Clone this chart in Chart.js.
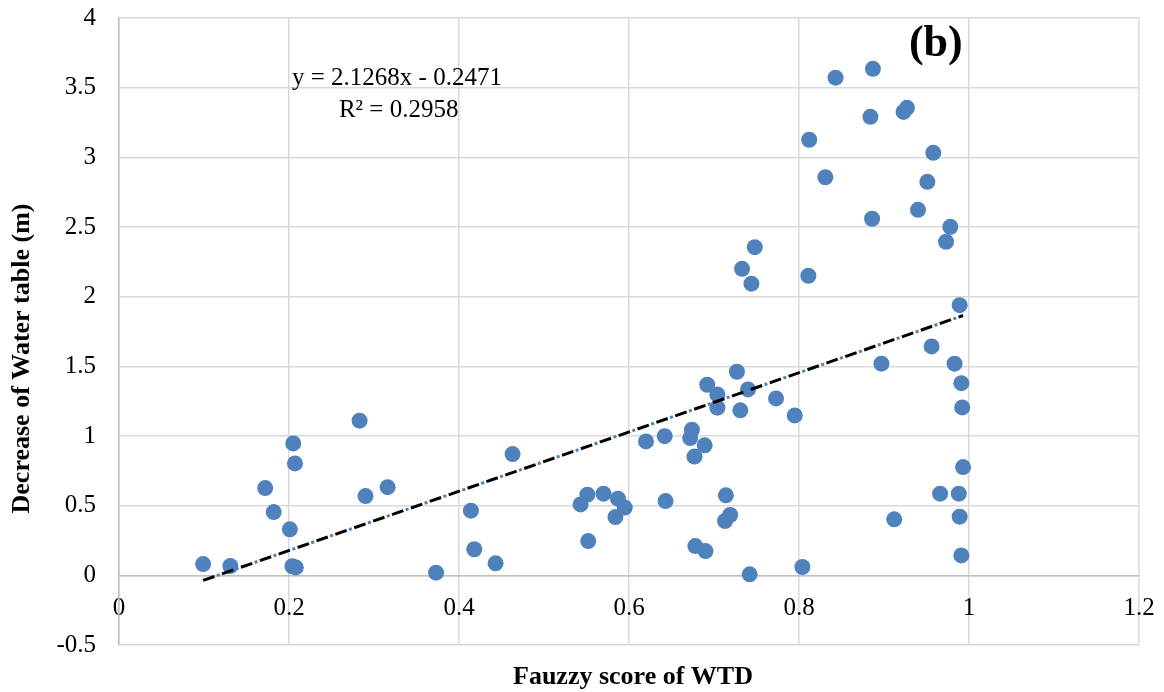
<!DOCTYPE html>
<html>
<head>
<meta charset="utf-8">
<script src="https://cdn.jsdelivr.net/npm/chart.js@4/dist/chart.umd.min.js"></script>
<style>
  html, body { margin: 0; padding: 0; background: #fff; }
  #wrap { width: 1164px; height: 692px; position: relative; }
</style>
</head>
<body>
<div id="wrap"><canvas id="wtdChart"></canvas></div>
<script>
// Fuzzy score of WTD (x) vs decrease of water table in m (y)
const fuzzyScore = [
    0.099, 0.131, 0.172, 0.182, 0.201, 0.205, 0.207, 0.204, 0.208, 0.283,
    0.290, 0.316, 0.373, 0.414, 0.418, 0.443, 0.463, 0.543, 0.551, 0.552,
    0.570, 0.587, 0.595, 0.584, 0.620, 0.642, 0.643, 0.674, 0.672, 0.677,
    0.689, 0.678, 0.690, 0.692, 0.704, 0.704, 0.714, 0.719, 0.713, 0.727,
    0.733, 0.731, 0.740, 0.742, 0.744, 0.748, 0.773, 0.795, 0.804, 0.811,
    0.812, 0.831, 0.843, 0.886, 0.884, 0.887, 0.897, 0.912, 0.923, 0.927,
    0.940, 0.951, 0.956, 0.958, 0.966, 0.973, 0.978, 0.983, 0.988, 0.989,
    0.989, 0.991, 0.992, 0.993, 0.991
];
const waterDecrease = [
    0.081, 0.067, 0.626, 0.454, 0.330, 0.947, 0.803, 0.065, 0.057, 1.110,
    0.569, 0.633, 0.019, 0.464, 0.187, 0.086, 0.870, 0.509, 0.579, 0.246,
    0.586, 0.550, 0.486, 0.418, 0.961, 0.999, 0.533, 1.045, 0.985, 0.852,
    0.933, 0.210, 0.174, 1.368, 1.298, 1.203, 0.574, 0.433, 0.390, 1.461,
    2.200, 1.184, 1.334, 0.007, 2.093, 2.355, 1.270, 1.148, 0.060, 2.150,
    3.126, 2.857, 3.572, 2.559, 3.291, 3.635, 1.519, 0.402, 3.326, 3.355,
    2.623, 2.824, 1.643, 3.032, 0.586, 2.394, 2.501, 1.519, 0.586, 0.421,
    1.939, 1.379, 1.205, 0.777, 0.143
];

// linear trendline as reported on the chart
const trendSlope = 2.1268;
const trendIntercept = -0.2471;
const trendLabel = 'y = 2.1268x - 0.2471';
const r2Label = 'R² = 0.2958';

const xTicks = [0, 0.2, 0.4, 0.6, 0.8, 1, 1.2];
const yTicks = [-0.5, 0, 0.5, 1, 1.5, 2, 2.5, 3, 3.5, 4];

const xTitle = 'Fauzzy score of WTD';
const yTitle = 'Decrease of Water table (m)';
const panelLabel = '(b)';

const points = fuzzyScore.map((x, i) => ({ x: x, y: waterDecrease[i] }));
const xMin = Math.min(...fuzzyScore);
const xMax = Math.max(...fuzzyScore);
const trendPoints = [
    { x: xMin, y: trendSlope * xMin + trendIntercept },
    { x: xMax, y: trendSlope * xMax + trendIntercept }
];

const serif = '"Liberation Serif", "Times New Roman", serif';

// ===================
// extra text: axis titles, equation, panel label
// ===================
const textPlugin = {
    id: 'textPlugin',
    afterDraw(chart) {
        const ctx = chart.ctx;
        const xs = chart.scales.x;
        const ys = chart.scales.y;
        const area = chart.chartArea;
        ctx.save();
        ctx.fillStyle = '#000';
        ctx.textAlign = 'center';

        // equation
        ctx.font = '25px ' + serif;
        ctx.textBaseline = 'alphabetic';
        ctx.fillText(trendLabel, xs.getPixelForValue(0.327), ys.getPixelForValue(3.52));
        ctx.fillText(r2Label, xs.getPixelForValue(0.329), ys.getPixelForValue(3.29));

        // panel label
        ctx.font = 'bold 44px ' + serif;
        ctx.fillText(panelLabel, xs.getPixelForValue(0.961), ys.getPixelForValue(3.73));

        // x axis title
        ctx.font = 'bold 26px ' + serif;
        ctx.fillText(xTitle, (area.left + area.right) / 2 + 4, chart.height - 8);

        // y axis title
        ctx.translate(22, (area.top + area.bottom) / 2 + 27);
        ctx.rotate(-Math.PI / 2);
        ctx.textBaseline = 'middle';
        ctx.fillText(yTitle, 0, 0);
        ctx.restore();
    }
};

const ctx = document.getElementById('wtdChart').getContext('2d');
const wtdChart = new Chart(ctx, {
    type: 'scatter',
    data: {
        datasets: [
            {
                // black dashes of the trendline
                type: 'line',
                data: trendPoints,
                borderColor: '#000',
                borderWidth: 3,
                borderDash: [12, 8],
                pointRadius: 0,
                fill: false
            },
            {
                // blue dots between the dashes
                type: 'line',
                data: trendPoints,
                borderColor: '#4F81BD',
                borderWidth: 3,
                borderDash: [3, 17],
                borderDashOffset: 5.5,
                pointRadius: 0,
                fill: false
            },
            {
                data: points,
                backgroundColor: '#4F81BD',
                borderColor: '#4F81BD',
                borderWidth: 0,
                pointRadius: 8,
                pointHoverRadius: 8
            }
        ]
    },
    options: {
        responsive: true,
        maintainAspectRatio: false,
        animation: false,
        layout: {
            padding: { top: 18, right: 25, left: 0, bottom: 47 }
        },
        plugins: {
            legend: { display: false },
            tooltip: { enabled: false },
            title: { display: false }
        },
        scales: {
            x: {
                type: 'linear',
                position: { y: 0 },
                min: 0,
                max: 1.2,
                afterBuildTicks: (scale) => { scale.ticks = xTicks.map(v => ({ value: v })); },
                grid: { color: '#D9D9D9', lineWidth: 1.5, drawTicks: true, tickLength: 18, tickColor: 'rgba(0,0,0,0)' },
                border: { color: '#BFBFBF', width: 1.5 },
                ticks: {
                    color: '#000',
                    padding: 0,
                    maxRotation: 0,
                    callback: (v) => String(v),
                    font: { family: serif, size: 25 }
                }
            },
            y: {
                type: 'linear',
                min: -0.5,
                max: 4,
                afterBuildTicks: (scale) => { scale.ticks = yTicks.map(v => ({ value: v })); },
                afterFit: (scale) => { scale.width = 119; },
                grid: { color: '#D9D9D9', lineWidth: 1.5, drawTicks: true, tickLength: 23, tickColor: 'rgba(0,0,0,0)' },
                border: { color: '#BFBFBF', width: 1.5 },
                ticks: {
                    color: '#000',
                    padding: 0,
                    callback: (v) => String(v),
                    font: { family: serif, size: 25 }
                }
            }
        }
    },
    plugins: [textPlugin]
});
</script>
</body>
</html>
